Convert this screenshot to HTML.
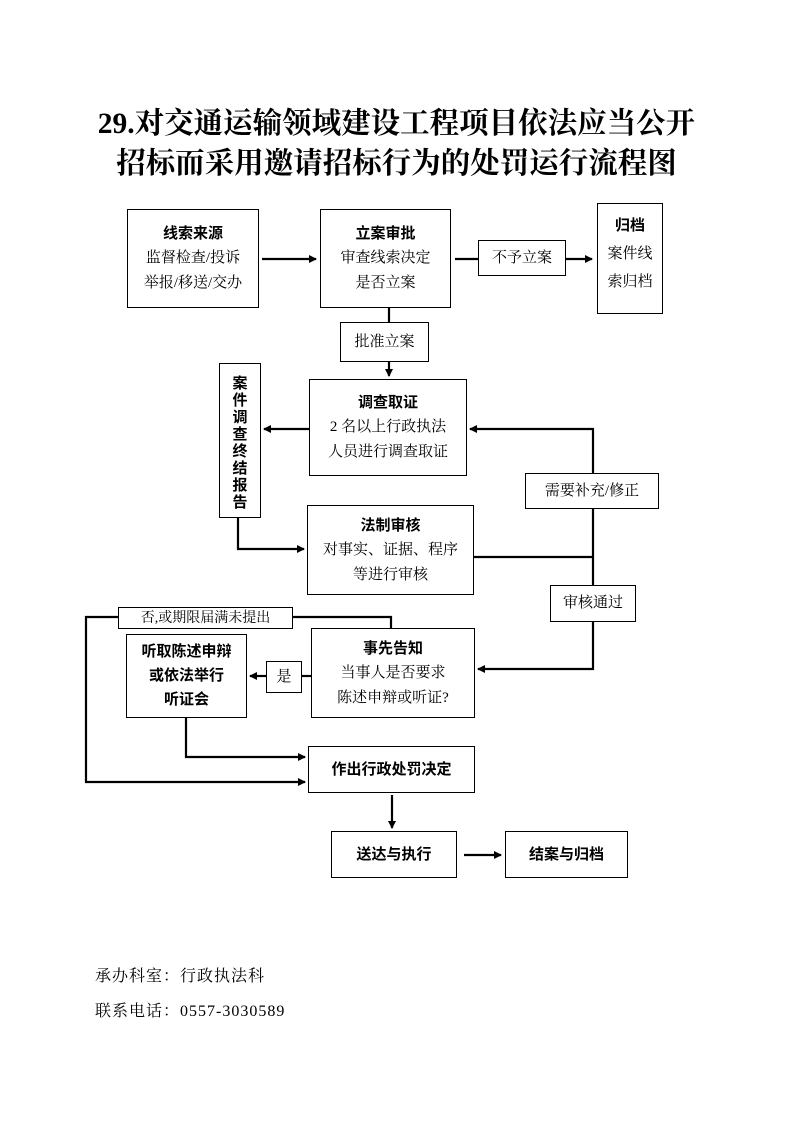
<!DOCTYPE html>
<html><head><meta charset="utf-8"><style>
body{margin:0;background:#fff;}
.p{position:relative;width:793px;height:1122px;overflow:hidden;font-family:"Liberation Serif","Noto Serif CJK SC",serif;}
.t{position:absolute;left:0;width:793px;text-align:center;font-weight:bold;font-size:29.5px;}
.b{position:absolute;border:1.5px solid #000;box-sizing:border-box;text-align:center;font-size:15px;line-height:25px;display:flex;flex-direction:column;justify-content:center;align-items:center;}
.h{font-family:"Liberation Sans","Noto Sans CJK SC",sans-serif;font-weight:bold;}
.f{position:absolute;left:95px;font-size:16px;letter-spacing:1px;}
svg{position:absolute;left:0;top:0;}
</style></head><body><div class="p">
<div class="t" style="top:100px">29.对交通运输领域建设工程项目依法应当公开</div>
<div class="t" style="top:140px">招标而采用邀请招标行为的处罚运行流程图</div>
<svg width="793" height="1122"><defs><marker id="a" markerWidth="8" markerHeight="8" refX="7" refY="4" orient="auto" markerUnits="userSpaceOnUse"><path d="M0,0L8,4L0,8z"/></marker></defs>
<g stroke="#000" stroke-width="2.2" fill="none">
<path d="M262,259H316" marker-end="url(#a)"/>
<path d="M455,259H478"/><path d="M566,259H592" marker-end="url(#a)"/>
<path d="M389,308V322"/><path d="M389,361V376" marker-end="url(#a)"/>
<path d="M309,429H264" marker-end="url(#a)"/>
<path d="M238,518V549H304" marker-end="url(#a)"/>
<path d="M474,557H593"/>
<path d="M593,473V429H470" marker-end="url(#a)"/>
<path d="M593,508V585"/><path d="M593,621V669H478" marker-end="url(#a)"/>
<path d="M311,676H302"/><path d="M266,676H250" marker-end="url(#a)"/>
<path d="M391,628V617H293"/><path d="M118,617H86V782H305" marker-end="url(#a)"/>
<path d="M186,717V757H305" marker-end="url(#a)"/>
<path d="M392,795V828" marker-end="url(#a)"/>
<path d="M464,855H501" marker-end="url(#a)"/>
</g></svg>
<div class="b" style="left:127px;top:209px;width:132px;height:99px"><span class="h">线索来源</span>监督检查/投诉<br>举报/移送/交办</div>
<div class="b" style="left:320px;top:209px;width:131px;height:99px"><span class="h">立案审批</span>审查线索决定<br>是否立案</div>
<div class="b" style="left:478px;top:240px;width:88px;height:36px">不予立案</div>
<div class="b" style="left:597px;top:203px;width:66px;height:111px;justify-content:flex-start;padding-top:8px;line-height:28px"><span class="h">归档</span>案件线<br>索归档</div>
<div class="b" style="left:340px;top:322px;width:89px;height:40px">批准立案</div>
<div class="b" style="left:309px;top:379px;width:158px;height:97px"><span class="h">调查取证</span>2 名以上行政执法<br>人员进行调查取证</div>
<div class="b h" style="left:219px;top:363px;width:42px;height:155px;line-height:17px;font-size:15px;padding-top:4px">案<br>件<br>调<br>查<br>终<br>结<br>报<br>告</div>
<div class="b" style="left:307px;top:505px;width:167px;height:90px"><span class="h">法制审核</span>对事实、证据、程序<br>等进行审核</div>
<div class="b" style="left:525px;top:473px;width:134px;height:36px">需要补充/修正</div>
<div class="b" style="left:550px;top:585px;width:86px;height:37px">审核通过</div>
<div class="b" style="left:118px;top:607px;width:175px;height:22px;font-size:14px">否,或期限届满未提出</div>
<div class="b h" style="left:126px;top:634px;width:121px;height:84px;line-height:24px">听取陈述申辩<br>或依法举行<br>听证会</div>
<div class="b" style="left:266px;top:661px;width:36px;height:32px">是</div>
<div class="b" style="left:311px;top:628px;width:164px;height:90px"><span class="h">事先告知</span>当事人是否要求<br>陈述申辩或听证?</div>
<div class="b h" style="left:308px;top:746px;width:167px;height:47px">作出行政处罚决定</div>
<div class="b h" style="left:331px;top:831px;width:126px;height:47px">送达与执行</div>
<div class="b h" style="left:505px;top:831px;width:123px;height:47px">结案与归档</div>
<div class="f" style="top:963px">承办科室：行政执法科</div>
<div class="f" style="top:998px">联系电话：0557-3030589</div>
</div></body></html>
